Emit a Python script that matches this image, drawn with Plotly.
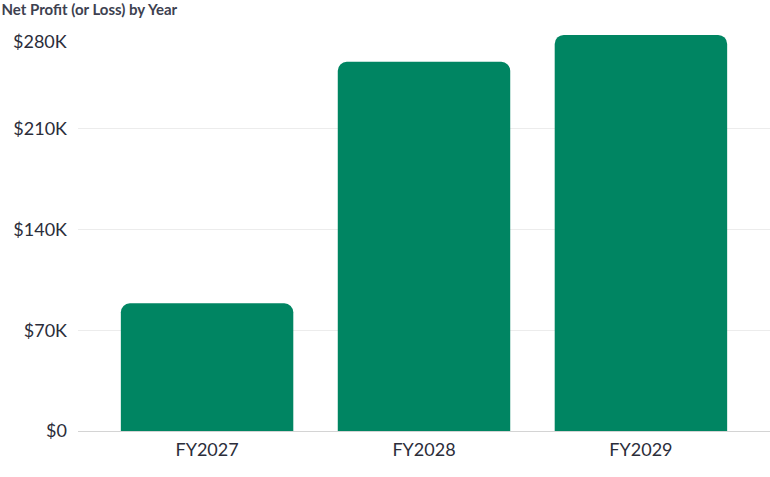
import plotly.graph_objects as go

# data
years = ["FY2027", "FY2028", "FY2029"]
net_profit = [88700, 256500, 275200]
tick_vals = [0, 70000, 140000, 210000, 280000]
tick_text = ["$0", "$70K", "$140K", "$210K", "$280K"]

TICK_FONT = dict(size=18, color="#2b2d3a")

fig = go.Figure(go.Bar(
    x=years,
    y=net_profit,
    marker=dict(color="#008562", line=dict(width=0)),
    width=0.795,
    hoverinfo="x+y",
))

fig.update_layout(
    width=770,
    height=477,
    margin=dict(l=78, r=0, t=28, b=46),
    paper_bgcolor="white",
    plot_bgcolor="white",
    barcornerradius=9,
    showlegend=False,
    font=dict(family="Lato, Inter, sans-serif", color="#2b2d3a"),
    title=dict(
        text="<b>Net Profit (or Loss) by Year</b>",
        x=0.002, xanchor="left", xref="container",
        y=0.98, yanchor="middle", yref="container",
        font=dict(size=15, color="#3d4150"),
    ),
    xaxis=dict(
        range=[-0.595, 2.595],
        showgrid=False,
        showline=False,
        ticks="",
        ticklabelstandoff=6,
        tickfont=TICK_FONT,
        fixedrange=True,
    ),
    yaxis=dict(
        range=[0, 280000],
        tickvals=tick_vals,
        # top label is drawn separately, a little below its grid line
        ticktext=tick_text[:-1] + [""],
        showgrid=True,
        gridcolor="#ececec",
        gridwidth=1,
        zeroline=True,
        zerolinecolor="#d4d4d4",
        zerolinewidth=1,
        ticks="",
        ticklabelstandoff=10,
        tickfont=TICK_FONT,
        fixedrange=True,
    ),
)

fig.add_annotation(
    x=0, xref="paper", xanchor="right", xshift=-9,
    y=tick_vals[-1], yref="y", yanchor="middle", yshift=-13,
    text=tick_text[-1], showarrow=False, font=TICK_FONT,
)

# page margin off so the figure sits at the window's corner
fig.write_html(
    "out.html",
    config={"displayModeBar": False},
    post_script="document.body.style.margin='0';",
)
